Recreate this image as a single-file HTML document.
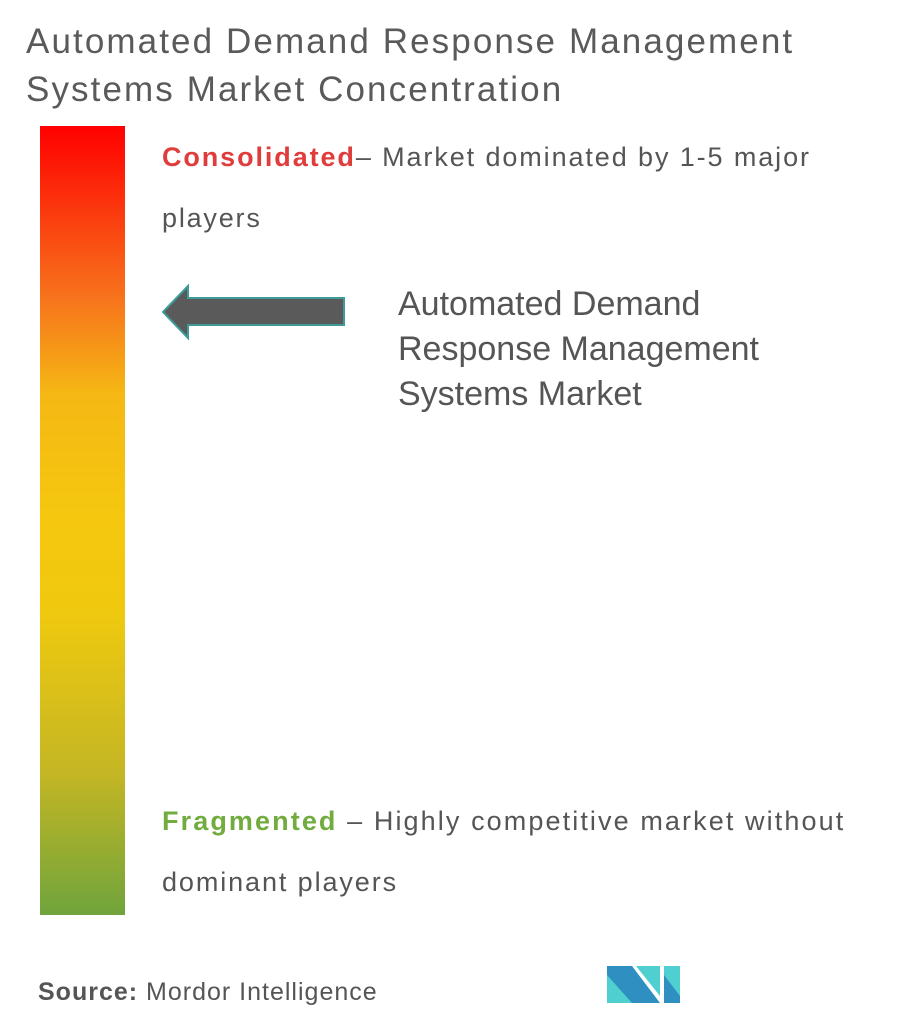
<!DOCTYPE html>
<html><head><style>
body{margin:0;width:905px;height:1028px;background:#fff;font-family:"Liberation Sans",sans-serif;color:#555;position:relative;overflow:hidden}
.t{position:absolute;white-space:nowrap}
</style></head><body>
<div class="t" style="left:26px;top:18px;font-size:35px;line-height:48px;color:#5a5a5a;letter-spacing:2.1px">Automated Demand Response Management<br>Systems Market Concentration</div>
<div style="position:absolute;left:40px;top:126px;width:85px;height:789px;background:linear-gradient(to bottom,#ff0000 0%,#f7741c 22%,#f5b814 34%,#f5c80f 50%,#efc90f 62%,#c4b624 82%,#70a43c 100%)"></div>
<div class="t" style="left:162px;top:142px;font-size:27px;color:#555;letter-spacing:1.9px"><b style="color:#e03c3c">Consolidated</b>– Market dominated by 1-5 major</div>
<div class="t" style="left:162px;top:203px;font-size:27px;letter-spacing:1.8px">players</div>
<svg style="position:absolute;left:0;top:0" width="905" height="1028">
<polygon points="163,312 188,286 188,298 344,298 344,325 188,325 188,338" fill="#5a5a5a" stroke="#3f9a9a" stroke-width="2"/>
<polygon points="607,966 632,966 660,1003 607,1003" fill="#2e8fc0"/>
<polygon points="607,975 632,1003 607,1003" fill="#4fcfd0"/>
<polygon points="636,966 660,966 660,996" fill="#4fcfd0"/>
<polygon points="664,966 680,966 680,1003 664,1003" fill="#4fcfd0"/>
<polygon points="664,975 680,996 680,1003 664,1003" fill="#2e8fc0"/>
</svg>
<div class="t" style="left:398px;top:282px;font-size:34px;line-height:45px;color:#555">Automated Demand<br>Response Management<br>Systems Market</div>
<div class="t" style="left:162px;top:806px;font-size:27px;letter-spacing:2.1px"><b style="color:#72ac3f">Fragmented</b> – Highly competitive market without</div>
<div class="t" style="left:162px;top:867px;font-size:27px;letter-spacing:1.9px">dominant players</div>
<div class="t" style="left:38px;top:978px;font-size:25px;letter-spacing:1px"><b>Source:</b> Mordor Intelligence</div>
</body></html>
